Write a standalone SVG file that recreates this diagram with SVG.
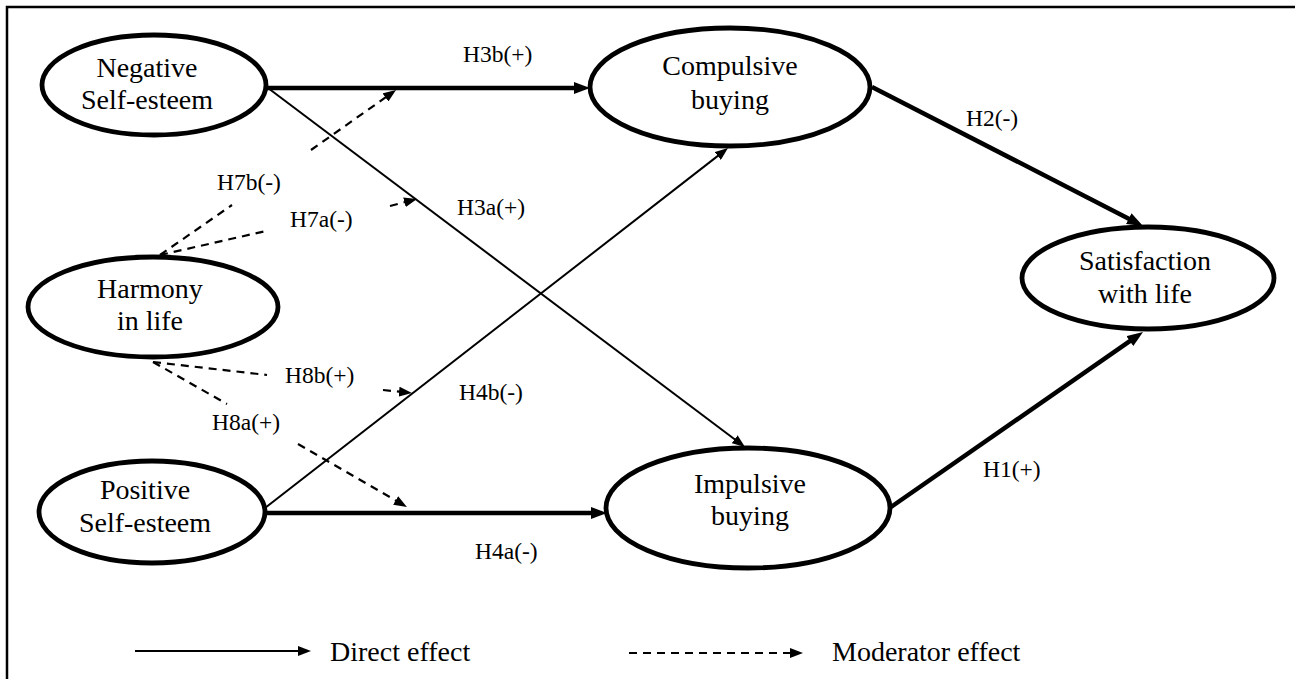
<svg xmlns="http://www.w3.org/2000/svg" width="1295" height="679" viewBox="0 0 1295 679">
<style>
.node{fill:#fff;stroke:#000;stroke-width:4.8}
text{font-family:'Liberation Serif','DejaVu Serif',serif;fill:#000}
.nt{font-size:28px;text-anchor:middle}
.lbl{font-size:23.5px}
.leg{font-size:28px}
.thick{stroke:#000;stroke-width:4.5;fill:none}
.thin{stroke:#000;stroke-width:2;fill:none}
.dash{stroke:#000;stroke-width:2.2;fill:none;stroke-dasharray:8 6}
</style>
<defs>
<marker id="ahThick" markerUnits="userSpaceOnUse" markerWidth="16" markerHeight="12" refX="6" refY="6" orient="auto"><path d="M0,0 L16,6 L0,12 z" fill="#000"/></marker>
<marker id="ahThin" markerUnits="userSpaceOnUse" markerWidth="13" markerHeight="10" refX="5" refY="5" orient="auto"><path d="M0,0 L13,5 L0,10 z" fill="#000"/></marker>
</defs>
<rect width="1295" height="679" fill="#fff"/>
<path d="M7,690 V7 H1300" fill="none" stroke="#000" stroke-width="2.5"/>
<g id="connectors">
<line class="thick" x1="267" y1="88" x2="580" y2="88" marker-end="url(#ahThick)"/>
<line class="thin" x1="268" y1="88" x2="738.6" y2="442.2" marker-end="url(#ahThin)"/>
<line class="thin" x1="265" y1="508" x2="721.7" y2="152.9" marker-end="url(#ahThin)"/>
<line class="thick" x1="265" y1="513" x2="597" y2="513" marker-end="url(#ahThick)"/>
<line class="thick" x1="872" y1="87" x2="1134.1" y2="221.4" marker-end="url(#ahThick)"/>
<line class="thick" x1="891" y1="507" x2="1134.8" y2="337.7" marker-end="url(#ahThick)"/>
<line class="dash" x1="160" y1="255" x2="232" y2="205"/>
<line class="dash" x1="311" y1="150" x2="389.5" y2="94.6" marker-end="url(#ahThin)"/>
<line class="dash" x1="160" y1="255" x2="266" y2="231"/>
<line class="dash" x1="390" y1="206" x2="409.3" y2="201" marker-end="url(#ahThin)"/>
<line class="dash" x1="153" y1="362" x2="267" y2="375"/>
<line class="dash" x1="383" y1="390" x2="404" y2="392.2" marker-end="url(#ahThin)"/>
<line class="dash" x1="153" y1="362" x2="227" y2="404"/>
<line class="dash" x1="298" y1="444" x2="400" y2="503" marker-end="url(#ahThin)"/>
</g>
<g id="labels">
<text class="lbl" x="463" y="62">H3b(+)</text>
<text class="lbl" x="217" y="190">H7b(-)</text>
<text class="lbl" x="290" y="227">H7a(-)</text>
<text class="lbl" x="457" y="215">H3a(+)</text>
<text class="lbl" x="285" y="383">H8b(+)</text>
<text class="lbl" x="212" y="430">H8a(+)</text>
<text class="lbl" x="459" y="400">H4b(-)</text>
<text class="lbl" x="475" y="559">H4a(-)</text>
<text class="lbl" x="966" y="126">H2(-)</text>
<text class="lbl" x="983" y="477">H1(+)</text>
</g>
<g id="node-negative">
<ellipse class="node" cx="154" cy="85" rx="112" ry="50"/>
<text class="nt" x="147" y="77">Negative</text>
<text class="nt" x="147" y="109">Self-esteem</text>
</g>
<g id="node-compulsive">
<ellipse class="node" cx="730" cy="87" rx="140" ry="59"/>
<text class="nt" x="730" y="75">Compulsive</text>
<text class="nt" x="730" y="109">buying</text>
</g>
<g id="node-harmony">
<ellipse class="node" cx="153" cy="307" rx="125" ry="50"/>
<text class="nt" x="150" y="298">Harmony</text>
<text class="nt" x="150" y="330">in life</text>
</g>
<g id="node-satisfaction">
<ellipse class="node" cx="1148" cy="278" rx="126" ry="51"/>
<text class="nt" x="1145" y="270">Satisfaction</text>
<text class="nt" x="1145" y="303">with life</text>
</g>
<g id="node-positive">
<ellipse class="node" cx="152" cy="512" rx="113" ry="51"/>
<text class="nt" x="145" y="499">Positive</text>
<text class="nt" x="145" y="532">Self-esteem</text>
</g>
<g id="node-impulsive">
<ellipse class="node" cx="748" cy="508" rx="142" ry="60"/>
<text class="nt" x="750" y="493">Impulsive</text>
<text class="nt" x="750" y="525">buying</text>
</g>
<g id="legend">
<line class="thin" x1="135" y1="651" x2="303" y2="651" marker-end="url(#ahThin)"/>
<text class="leg" x="330" y="661">Direct effect</text>
<line class="dash" x1="629" y1="653" x2="795" y2="653" marker-end="url(#ahThin)"/>
<text class="leg" x="832" y="661">Moderator effect</text>
</g>
</svg>
